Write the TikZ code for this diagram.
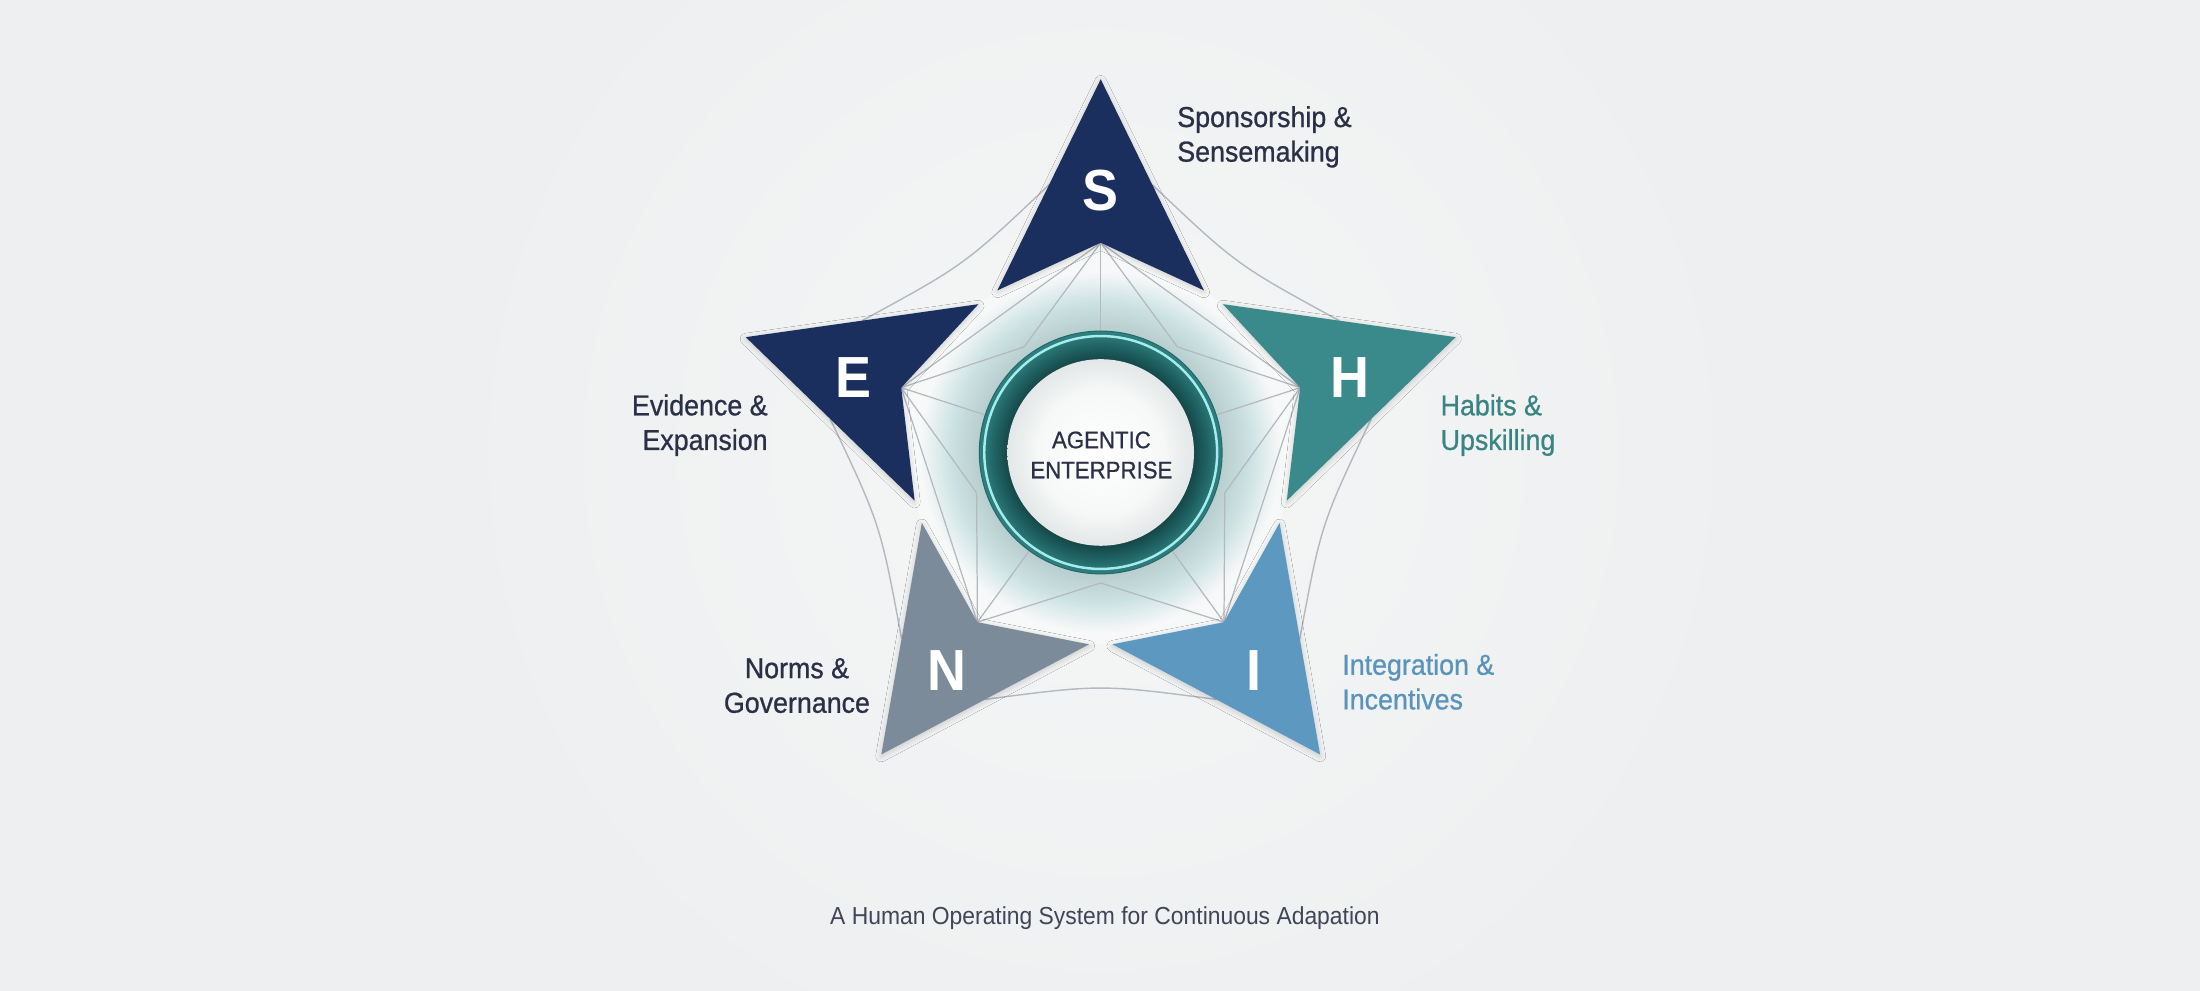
\documentclass[tikz,border=0pt]{standalone}
\usepackage{fontspec}
\setmainfont{Liberation Sans}[FakeStretch=0.93]
\newfontfamily\lblfont{Liberation Sans}[FakeStretch=0.93, FakeBold=0.8]
\usetikzlibrary{calc,shadows.blur}
\definecolor{bg}{HTML}{EEEFF0}
\definecolor{bgin}{HTML}{F5F6F6}
\definecolor{navy}{HTML}{1B2F5E}
\definecolor{tealc}{HTML}{3A898B}
\definecolor{steel}{HTML}{5D98C1}
\definecolor{slate}{HTML}{7C8B99}
\definecolor{txtdark}{HTML}{2B3046}
\definecolor{txtteal}{HTML}{3A8584}
\definecolor{txtsteel}{HTML}{5A94BA}
\definecolor{linegray}{HTML}{B3B9BE}
\definecolor{innerfill}{HTML}{F7F8F8}
\definecolor{glowc}{HTML}{4E9E9E}
\definecolor{ringdark}{HTML}{154546}
\definecolor{ringmid}{HTML}{1E5E5F}
\definecolor{ringlight}{HTML}{2B7879}
\definecolor{ringedge}{HTML}{2F8283}
\definecolor{cyanline}{HTML}{A6ECEC}
\definecolor{discmid}{HTML}{F6F7F7}
\definecolor{discedge}{HTML}{E3E7E7}
\pgfdeclareradialshading{ringshade}{\pgfpoint{0bp}{0bp}}{color(0bp)=(ringdark); color(19bp)=(ringdark); color(21.5bp)=(ringmid); color(24bp)=(ringlight); color(25bp)=(ringedge); color(50bp)=(ringedge)}
\pgfdeclareradialshading{discshade}{\pgfpoint{0bp}{0bp}}{color(0bp)=(white); color(17bp)=(discmid); color(25bp)=(discedge); color(50bp)=(discedge)}
\tikzset{
  curveline/.style={draw=linegray, line width=0.4pt},
  innerline/.style={draw=linegray, line width=0.35pt},
  arrowhead/.style={blur shadow={shadow blur radius=1.6pt, shadow opacity=18, shadow xshift=0pt, shadow yshift=-0.5pt}},
  bigletter/.style={font=\fontsize{16.5}{16.5}\selectfont\bfseries, text=white, inner sep=0pt},
  lbl/.style={font=\lblfont\fontsize{8.2}{9.85}\selectfont, inner sep=0pt},
  centertext/.style={font=\lblfont\fontsize{6.8}{8.55}\selectfont, text=txtdark, align=center, inner sep=0pt},
  captiontext/.style={font=\fontsize{7}{8}\selectfont, text=txtdark!90, inner sep=0pt}
}
\begin{document}
\begin{tikzpicture}[x=0.1403mm, y=-0.1403mm]
\useasboundingbox (0,0) rectangle (1568,706);
\fill[bg] (0,0) rectangle (1568,706);
\coordinate (O) at (784.5,322.5);
\shade[inner color=bgin, outer color=bg] (O) circle (470);

% geometry
\foreach \k in {0,...,4} {
  \pgfmathsetmacro{\a}{-90+72*\k}
  \coordinate (T\k) at ($(O)+(\a:266)$);
  \coordinate (A\k) at ($(O)+(\a-32.5:137)$);
  \coordinate (B\k) at ($(O)+(\a+32.5:137)$);
  \coordinate (P\k) at ($(O)+(\a:149.5)$);
  \coordinate (Q\k) at ($(O)+(\a+36:93)$);
  \coordinate (M\k) at ($(T\k)!.5!(A\k)$);
  \coordinate (W\k) at ($(T\k)!.5!(B\k)$);
}

% outer curves
\foreach \k in {0,...,4} {
  \pgfmathtruncatemacro{\n}{mod(\k+1,5)}
  \coordinate (C\k) at ($(W\k)!.5!(M\n)$);
  \draw[curveline] (W\k) .. controls ($(C\k)!4.3pt!(O)$) .. (M\n);
}

% inner decagon
\fill[innerfill] (A0)--(P0)--(B0)--(A1)--(P1)--(B1)--(A2)--(P2)--(B2)--(A3)--(P3)--(B3)--(A4)--(P4)--(B4)--cycle;
\begin{scope}
  \clip (A0)--(P0)--(B0)--(A1)--(P1)--(B1)--(A2)--(P2)--(B2)--(A3)--(P3)--(B3)--(A4)--(P4)--(B4)--cycle;
  \foreach \r in {86,87,...,128} {
    \fill[glowc, opacity=0.009] (O) circle (\r);
  }
\end{scope}

% inner lines
\foreach \k in {0,...,4} {
  \pgfmathtruncatemacro{\p}{mod(\k+4,5)}
  \draw[innerline] (P\k) -- (Q\k);
  \draw[innerline] (P\k) -- (Q\p);
  \draw[innerline] (P\k) -- (O);
}
\draw[innerline] (P3) -- (P4) -- (P0) -- (P1) -- (P2);

% arrowheads
\fill[navy, arrowhead] (T0) -- (B0) -- (P0) -- (A0) -- cycle;
\fill[tealc, arrowhead] (T1) -- (B1) -- (P1) -- (A1) -- cycle;
\fill[steel, arrowhead] (T2) -- (B2) -- (P2) -- (A2) -- cycle;
\fill[slate, arrowhead] (T3) -- (B3) -- (P3) -- (A3) -- cycle;
\fill[navy, arrowhead] (T4) -- (B4) -- (P4) -- (A4) -- cycle;

% center ring
\shade[shading=ringshade] (O) circle (86.5);
\draw[cyanline, line width=0.7pt] (O) circle (83);
\draw[ringedge!80!black, line width=0.3pt] (O) circle (86.5);
\shade[shading=discshade] (O) circle (66.5);

% letters
\node[bigletter] (letS) at (784.5,136) {S};
\node[bigletter] (letH) at (962,269) {H};
\node[bigletter] (letI) at (893.8,478) {I};
\node[bigletter] (letN) at (675,478) {N};
\node[bigletter] (letE) at (608.5,269) {E};

% center text
\node[centertext, anchor=base] (core) at (785,340.9) {AGENTIC\\ENTERPRISE};

% labels (base anchor = baseline of last line)
\node[lbl, text=txtdark, align=left, anchor=base west] (lblS) at (838.6,115.2) {Sponsorship \&\\Sensemaking};
\node[lbl, text=txtteal, align=left, anchor=base west] (lblH) at (1026.3,320.7) {Habits \&\\Upskilling};
\node[lbl, text=txtsteel, align=left, anchor=base west] (lblI) at (956.2,505.6) {Integration \&\\Incentives};
\node[lbl, text=txtdark, align=center, anchor=base] (lblN) at (568,508) {Norms \&\\Governance};
\node[lbl, text=txtdark, align=right, anchor=base east] (lblE) at (547.6,320.7) {Evidence \&\\Expansion};

% caption
\node[captiontext, anchor=base] (caption) at (787.5,659) {A Human Operating System for Continuous Adapation};
\end{tikzpicture}
\end{document}
